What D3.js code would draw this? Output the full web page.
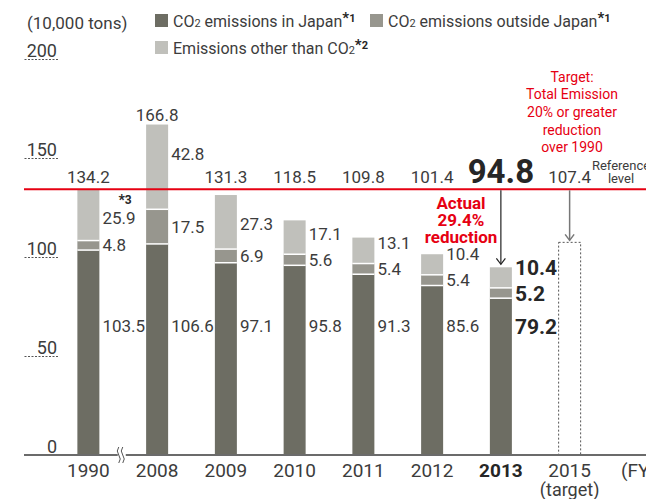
<!DOCTYPE html>
<html>
<head>
<meta charset="utf-8">
<script src="https://cdn.jsdelivr.net/npm/d3@7/dist/d3.min.js"></script>
<style>
  html, body { margin: 0; padding: 0; background: #fff; }
  svg { display: block; fill: #3a3a3a; }
  text { font-family: Roboto, 'Liberation Sans', sans-serif; }
</style>
</head>
<body>
<div id="chart"></div>
<script>
// ---------- data ----------
const years      = ["1990", "2008", "2009", "2010", "2011", "2012", "2013", "2015"];
const inJapan    = [103.5, 106.6, 97.1, 95.8, 91.3, 85.6, 79.2, null];
const outside    = [4.8, 17.5, 6.9, 5.6, 5.4, 5.4, 5.2, null];
const otherGas   = [25.9, 42.8, 27.3, 17.1, 13.1, 10.4, 10.4, null];
const totals     = [134.2, 166.8, 131.3, 118.5, 109.8, 101.4, 94.8, 107.4];
const yTicks     = [0, 50, 100, 150, 200];
const referenceLevel = 134.2;
const targetTotal    = 107.4;
const currentYear = "2013";
const targetYear  = "2015";
const seriesNames = ["CO", "CO", "Emissions other than CO"];
const colors = { japan: "#6d6d63", outside: "#97968e", other: "#c0c0bb", red: "#e60012", text: "#3c3c3c", strong: "#262626" };

// ---------- layout ----------
const W = 646, H = 499;
const svg = d3.select("#chart").append("svg").attr("width", W).attr("height", H);

const y = d3.scaleLinear().domain([0, 200]).range([455, 59]);
const x = d3.scaleBand().domain(years).range([54, 604]).paddingInner(0.68).paddingOuter(0.34);
const bw = x.bandwidth();
const cx = d => x(d) + bw / 2;
const FONT = "Roboto, 'Liberation Sans', sans-serif";

// ---------- y axis (dotted ticks with labels above) ----------
const yAxis = d3.axisLeft(y).tickValues(yTicks).tickSize(34).tickFormat(d3.format("d"));
const gy = svg.append("g").attr("transform", "translate(58,0)").call(yAxis);
gy.select(".domain").remove();
gy.selectAll(".tick line")
  .attr("stroke", "#555").attr("stroke-width", 1).attr("stroke-dasharray", "2,1.5")
  .attr("display", d => d === 0 ? "none" : null);
gy.selectAll(".tick text")
  .attr("x", -1).attr("dy", -3)
  .attr("font-size", 18).attr("font-family", FONT).attr("fill", colors.text)
  .attr("text-anchor", "end");

// unit label
svg.append("text").attr("x", 27).attr("y", 29).attr("font-size", 17).attr("fill", colors.text).text("(10,000 tons)");

// ---------- bars ----------
const rows = years.map((yr, i) => ({ yr, i, a: inJapan[i], b: outside[i], c: otherGas[i], t: totals[i] }))
  .filter(d => d.a != null);

const gBars = svg.append("g");
rows.forEach(d => {
  const x0 = x(d.yr);
  const y0 = y(0), y1 = y(d.a), y2 = y(d.a + d.b), y3 = y(d.a + d.b + d.c);
  gBars.append("rect").attr("x", x0).attr("y", y1).attr("width", bw).attr("height", y0 - y1).attr("fill", colors.japan);
  gBars.append("rect").attr("x", x0).attr("y", y2).attr("width", bw).attr("height", y1 - y2).attr("fill", colors.outside);
  gBars.append("rect").attr("x", x0).attr("y", y3).attr("width", bw).attr("height", y2 - y3).attr("fill", colors.other);
  [y1, y2].forEach(yy => gBars.append("line").attr("x1", x0).attr("x2", x0 + bw)
    .attr("y1", yy).attr("y2", yy).attr("stroke", "#fff").attr("stroke-width", 1.5));
});

// target dotted box
svg.append("rect")
  .attr("x", x(targetYear)).attr("y", y(targetTotal))
  .attr("width", bw).attr("height", y(0) - y(targetTotal))
  .attr("fill", "none").attr("stroke", "#555").attr("stroke-width", 1).attr("stroke-dasharray", "2,2");

// ---------- x axis ----------
svg.append("line").attr("x1", 24).attr("x2", W).attr("y1", y(0)).attr("y2", y(0))
  .attr("stroke", "#6b6b6b").attr("stroke-width", 2);

const xAxis = d3.axisBottom(x).tickSize(0);
const gx = svg.append("g").attr("transform", `translate(0,${y(0)})`).call(xAxis);
gx.select(".domain").remove();
gx.selectAll(".tick text")
  .attr("y", 22).attr("dy", 0)
  .attr("font-size", 19).attr("font-family", FONT)
  .attr("fill", d => d === currentYear ? colors.strong : colors.text)
  .attr("font-weight", d => d === currentYear ? "bold" : null);
svg.append("text").attr("x", cx(targetYear)).attr("y", 496).attr("text-anchor", "middle")
  .attr("font-size", 18).attr("fill", colors.text).text("(target)");
svg.append("text").attr("x", 621).attr("y", 477).attr("font-size", 19).attr("fill", colors.text).text("(FY)");

// axis break mark between first two categories
const bx = (x(years[0]) + bw + x(years[1])) / 2 - 1;
const by = y(0);
svg.append("rect").attr("x", bx - 4).attr("y", by - 6).attr("width", 8).attr("height", 12).attr("fill", "#fff");
[-2, 2].forEach(off => {
  svg.append("path")
    .attr("d", `M${bx + off - 1},${by - 8} q-3,4 0,8 q3,4 0,8`)
    .attr("fill", "none").attr("stroke", "#555").attr("stroke-width", 1);
});

// ---------- reference line ----------
const refY = y(referenceLevel);
svg.append("line").attr("x1", 24).attr("x2", W).attr("y1", refY).attr("y2", refY)
  .attr("stroke", colors.red).attr("stroke-width", 2);

// ---------- total labels ----------
years.forEach((yr, i) => {
  const top = y(totals[i]);
  const above = top < refY - 20;
  const big = yr === currentYear;
  svg.append("text")
    .attr("x", cx(yr)).attr("y", above ? top - 4 : refY - 6)
    .attr("text-anchor", "middle")
    .attr("font-size", big ? 33 : 17)
    .attr("font-weight", big ? "bold" : null)
    .attr("fill", big ? colors.strong : colors.text)
    .text(totals[i].toFixed(1));
});

// ---------- segment labels ----------
const darkLabelY = y(65);
rows.forEach(d => {
  const big = d.yr === currentYear;
  const fs = big ? 21 : 17;
  const lx = x(d.yr) + bw + 3;
  const midY = (y(d.a) + y(d.a + d.b)) / 2;
  const lightY = Math.min(y(d.a + d.b + d.c) + 29, midY - 26);
  const make = (val, yy) => svg.append("text")
    .attr("x", lx).attr("y", yy).attr("dy", "0.36em")
    .attr("font-size", fs).attr("font-weight", big ? "bold" : null)
    .attr("fill", big ? colors.strong : colors.text)
    .text(val.toFixed(1));
  make(d.a, darkLabelY);
  make(d.b, midY);
  make(d.c, lightY);
  if (d.i === 0) {
    const t = svg.append("text").attr("x", lx + 16).attr("y", lightY - 13)
      .attr("font-size", 12).attr("font-weight", "bold").attr("fill", colors.strong);
    t.append("tspan").attr("font-size", 14).text("*");
    t.append("tspan").attr("dy", -1).text("3");
  }
});

// ---------- arrows ----------
function arrow(xx, y0, y1, color, sw) {
  svg.append("line").attr("x1", xx).attr("x2", xx).attr("y1", y0).attr("y2", y1)
    .attr("stroke", color).attr("stroke-width", sw);
  svg.append("path").attr("d", `M${xx - 4.5},${y1 - 6} L${xx},${y1} L${xx + 4.5},${y1 - 6}`)
    .attr("fill", "none").attr("stroke", color).attr("stroke-width", sw);
}
const iCur = years.indexOf(currentYear);
arrow(cx(currentYear), refY + 1, y(inJapan[iCur] + outside[iCur] + otherGas[iCur]) - 3, "#222", 1.2);
arrow(cx(targetYear), refY + 1, y(targetTotal) - 2, "#777", 1.5);

// ---------- annotations ----------
const actual = svg.append("text").attr("text-anchor", "middle").attr("font-weight", "bold")
  .attr("font-size", 17).attr("fill", colors.red);
[["Actual", 209], ["29.4%", 226], ["reduction", 243]].forEach(([s, yy]) =>
  actual.append("tspan").attr("x", 461).attr("y", yy).text(s));

const target = svg.append("text").attr("text-anchor", "middle").attr("font-size", 14).attr("fill", colors.red);
[["Target:", 82], ["Total Emission", 99], ["20% or greater", 117], ["reduction", 135], ["over 1990", 152]]
  .forEach(([s, yy]) => target.append("tspan").attr("x", 572).attr("y", yy).text(s));

const refl = svg.append("text").attr("text-anchor", "middle").attr("font-size", 13).attr("fill", colors.text);
[["Reference", 170], ["level", 183]].forEach(([s, yy]) => refl.append("tspan").attr("x", 621).attr("y", yy).text(s));

// ---------- legend ----------
function legendItem(lx, ly, color, base, rest, note) {
  svg.append("rect").attr("x", lx).attr("y", ly).attr("width", 13).attr("height", 13).attr("fill", color);
  const t = svg.append("text").attr("x", lx + 18).attr("y", ly + 13).attr("font-size", 16).attr("fill", colors.text);
  t.append("tspan").text(base);
  t.append("tspan").attr("font-size", 11).text("2");
  if (rest) t.append("tspan").text(rest);
  t.append("tspan").attr("font-weight", "bold").attr("font-size", 15).attr("dy", -4).attr("fill", colors.strong).text("*");
  t.append("tspan").attr("font-weight", "bold").attr("font-size", 11).attr("dy", -1).attr("fill", colors.strong).text(note);
}
legendItem(155, 14, colors.japan, seriesNames[0], " emissions in Japan", "1");
legendItem(370, 14, colors.outside, seriesNames[1], " emissions outside Japan", "1");
legendItem(155, 41, colors.other, seriesNames[2], null, "2");
</script>
</body>
</html>
